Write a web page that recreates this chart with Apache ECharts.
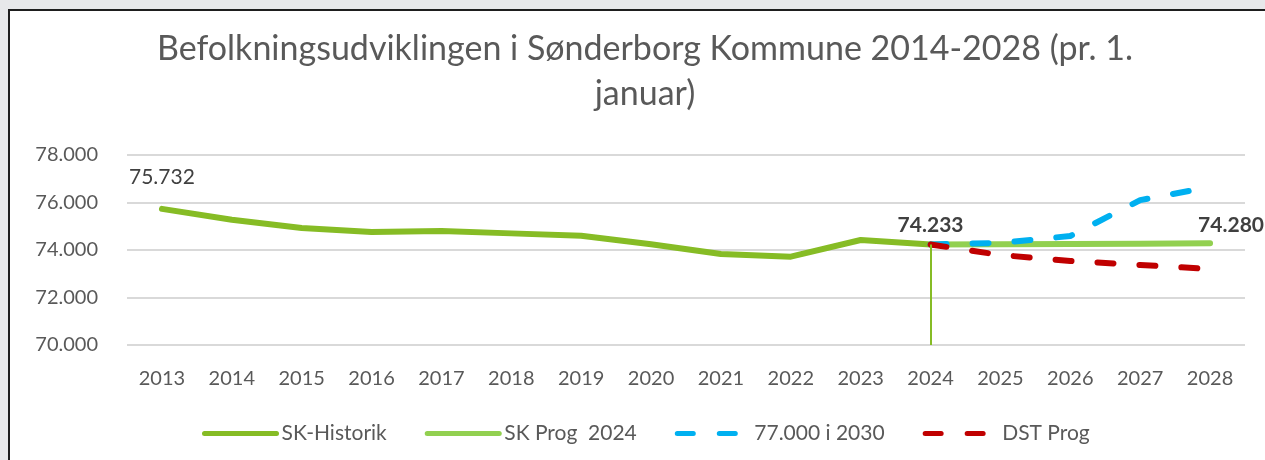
<!DOCTYPE html>
<html>
<head>
<meta charset="utf-8">
<script src="https://cdn.jsdelivr.net/npm/echarts@6/dist/echarts.min.js"></script>
<style>
  html, body { margin: 0; padding: 0; background: #e7e8ea; }
  #frame { position: absolute; left: 8px; top: 9px; width: 1300px; height: 500px;
           border-left: 2px solid #1e1e1e; border-top: 2px solid #1e1e1e; background: #fff; }
  #main { position: absolute; left: 0; top: 0; width: 1265px; height: 460px; }
</style>
</head>
<body>
<div id="frame"></div>
<div id="main"></div>
<script>
// år (x-akse)
var years = ['2013','2014','2015','2016','2017','2018','2019','2020','2021','2022','2023','2024','2025','2026','2027','2028'];
// historik 2013-2024
var skHistorik = [75732, 75270, 74930, 74760, 74800, 74700, 74600, 74240, 73830, 73720, 74420, 74233, null, null, null, null];
// prognoser 2024-2028
var skProg = [null, null, null, null, null, null, null, null, null, null, null, 74233, 74240, 74250, 74262, 74280];
var prog77000 = [null, null, null, null, null, null, null, null, null, null, null, 74233, 74300, 74590, 76100, 76650];
var dstProg = [null, null, null, null, null, null, null, null, null, null, null, 74233, 73790, 73540, 73370, 73200];
// y-akse
var yMin = 70000, yMax = 78000, yStep = 2000;

var FONT = 'Lato';

function fmt(n){
	return String(n).replace(/\B(?=(\d{3})+(?!\d))/g, '.');
}

// datapunkter med label
function withLabels(arr, labels){
	var out = [];
	for(var i = 0; i < arr.length; i++){
		if(labels[i]){
			out.push({value: arr[i], label: labels[i]});
		} else {
			out.push(arr[i]);
		}
	}
	return out;
}

var labNormal = {show: true, position: 'top', distance: 21, fontSize: 21, color: '#404040', fontFamily: FONT,
	formatter: function(p){ return fmt(p.value); }};
var labBold = {show: true, position: 'top', distance: 9, fontSize: 21, fontWeight: 'bold', color: '#404040', fontFamily: FONT,
	formatter: function(p){ return fmt(p.value); }};
var labBoldEnd = {show: true, position: 'top', distance: 8, offset: [21, 0], fontSize: 21, fontWeight: 'bold', color: '#404040', fontFamily: FONT,
	formatter: function(p){ return fmt(p.value); }};

var histLabels = {}; histLabels[0] = labNormal; histLabels[11] = labBold;
var progLabels = {}; progLabels[15] = labBoldEnd;

var myChart = echarts.init(document.getElementById('main'), null, {renderer: 'canvas'});
var option = {
	animation: false,
	textStyle: {fontFamily: FONT},
	title: {
		text: 'Befolkningsudviklingen i Sønderborg Kommune 2014-2028 (pr. 1.\njanuar)',
		left: 640,
		textAlign: 'center',
		top: 22,
		textStyle: {fontSize: 34, fontWeight: 'normal', color: '#595959', fontFamily: FONT, lineHeight: 45}
	},
	legend: {
		left: 197,
		top: 418,
		itemWidth: 72,
		itemHeight: 14,
		itemGap: 38,
		itemStyle: {opacity: 0},
		lineStyle: {width: 5, cap: 'round'},
		textStyle: {fontSize: 21, color: '#595959', fontFamily: FONT},
		data: ['SK-Historik', 'SK Prog  2024', '77.000 i 2030', 'DST Prog']
	},
	grid: {left: 127, right: 20, top: 155, bottom: 115, containLabel: false},
	xAxis: {
		type: 'category',
		data: years,
		boundaryGap: true,
		axisLine: {show: false},
		axisTick: {show: false},
		axisLabel: {fontSize: 20, color: '#595959', margin: 24, fontFamily: FONT}
	},
	yAxis: {
		type: 'value',
		min: yMin, max: yMax, interval: yStep,
		axisLine: {show: false},
		axisTick: {show: false},
		splitLine: {lineStyle: {color: '#d9d9d9', width: 2}},
		axisLabel: {fontSize: 20, color: '#595959', margin: 29, fontFamily: FONT,
			formatter: function(v){ return fmt(v); }}
	},
	series: [
		{
			name: 'SK-Historik', type: 'line', symbol: 'circle', symbolSize: 0, showSymbol: true,
			data: withLabels(skHistorik, histLabels),
			itemStyle: {color: '#86bc25'},
			lineStyle: {color: '#86bc25', width: 6, cap: 'round', join: 'round'},
			markLine: {
				silent: true, symbol: 'none', label: {show: false},
				lineStyle: {color: '#86bc25', width: 2, type: 'solid'},
				data: [[{coord: ['2024', 74233]}, {coord: ['2024', yMin]}]]
			}
		},
		{
			name: 'SK Prog  2024', type: 'line', symbol: 'circle', symbolSize: 0, showSymbol: true,
			data: withLabels(skProg, progLabels),
			itemStyle: {color: '#92d050'},
			lineStyle: {color: '#92d050', width: 6, cap: 'round', join: 'round'}
		},
		{
			name: '77.000 i 2030', type: 'line', symbol: 'none',
			data: prog77000,
			itemStyle: {color: '#00b0f0'},
			lineStyle: {color: '#00b0f0', width: 6, cap: 'round', type: [16, 26]}
		},
		{
			name: 'DST Prog', type: 'line', symbol: 'none',
			data: dstProg,
			itemStyle: {color: '#c00000'},
			lineStyle: {color: '#c00000', width: 6, cap: 'round', type: [16, 26]}
		}
	]
};
myChart.setOption(option);
</script>
</body>
</html>
